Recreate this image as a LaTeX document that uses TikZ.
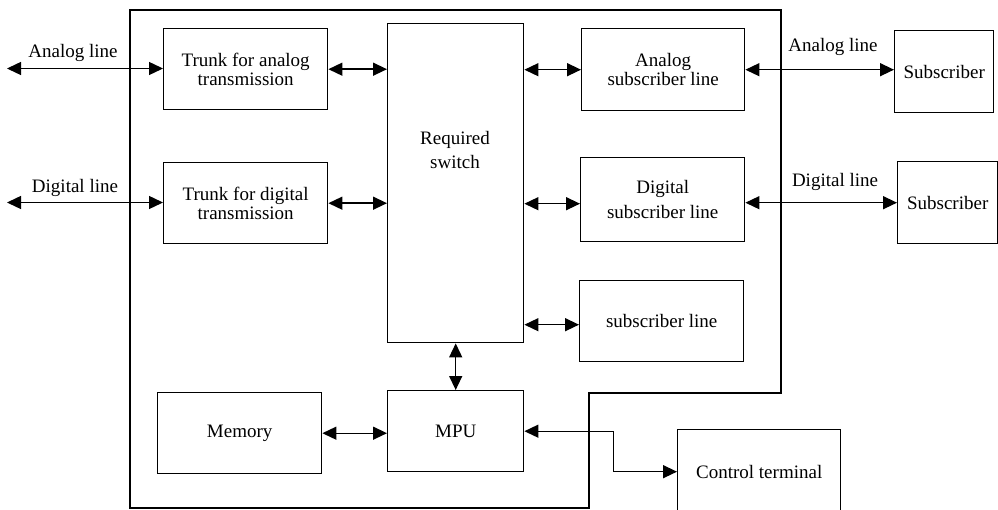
\documentclass[tikz,border=0pt]{standalone}
\usepackage{fontspec}
\setmainfont{Liberation Serif}
\usetikzlibrary{arrows.meta}
\begin{document}
\begin{tikzpicture}[x=1pt,y=-1pt,
  font=\fontsize{19}{19}\selectfont,
  frame/.style={line width=1.4pt},
  box/.style={draw, line width=1.4pt, inner sep=0pt, anchor=north west, align=center},
  conn/.style={line width=1.4pt, {Triangle[length=14pt,width=13pt]}-{Triangle[length=14pt,width=13pt]}},
  lbl/.style={inner sep=0pt}
]
\useasboundingbox (0,0) rectangle (998,510);
\clip (0,0) rectangle (998,510);
\fill[white] (0,0) rectangle (998,510);
% outer frame
\draw[frame] (130,10) -- (781,10) -- (781,393) -- (589,393) -- (589,508) -- (130,508) -- cycle;
% boxes
\node[box, minimum width=164pt, minimum height=81pt] (ta) at (163,28) {Trunk for analog\\transmission};
\node[box, minimum width=164pt, minimum height=81pt] (td) at (163,162) {Trunk for digital\\transmission};
\node[box, minimum width=136pt, minimum height=319pt] (sw) at (387,23) {};
\node[lbl, align=center, font=\fontsize{19}{24}\selectfont] (swt) at (455,150) {Required\\switch};
\node[box, minimum width=163pt, minimum height=82pt] (as) at (581,28) {Analog\\subscriber line};
\node[box, minimum width=164pt, minimum height=84pt, font=\fontsize{19}{25}\selectfont] (ds) at (580,157) {Digital\\subscriber line};
\node[box, minimum width=164pt, minimum height=81pt] (sl) at (579,280) {subscriber line};
\node[box, minimum width=164pt, minimum height=81pt] (mem) at (157,392) {Memory};
\node[box, minimum width=136pt, minimum height=81pt] (mpu) at (387,390) {MPU};
\node[box, minimum width=99pt, minimum height=82pt] (s1) at (894,30) {Subscriber};
\node[box, minimum width=100pt, minimum height=82pt] (s2) at (897,161) {Subscriber};
\node[box, minimum width=163pt, minimum height=84pt] (ct) at (677,429) {Control terminal};
% line labels
\node[lbl] (lal) at (73,53) {Analog line};
\node[lbl] (ldl) at (75,188) {Digital line};
\node[lbl] (ral) at (833,47) {Analog line};
\node[lbl] (rdl) at (835,182) {Digital line};
% free ends
\coordinate (al) at (7,68.5);
\coordinate (dl) at (7,202.5);
% connectors
\draw[conn] (al) -- (al -| ta.west);
\draw[conn] (dl) -- (dl -| td.west);
\draw[conn] (ta.east) -- (ta.east -| sw.west);
\draw[conn] (td.east) -- (td.east -| sw.west);
\draw[conn] (as.west -| sw.east) -- (as.west);
\draw[conn] ([yshift=-4pt]ds.west -| sw.east) -- ([yshift=-4pt]ds.west);
\draw[conn] ([yshift=-3.5pt]sl.west -| sw.east) -- ([yshift=-3.5pt]sl.west);
\draw[conn] (as.east) -- (as.east -| s1.west);
\draw[conn] (s2.west -| ds.east) -- (s2.west);
\draw[conn] (sw.south) -- (mpu.north);
\draw[conn] (mem.east) -- (mem.east -| mpu.west);
\draw[conn] (mpu.east) -- ++(89,0) |- (ct.west);
\end{tikzpicture}
\end{document}
